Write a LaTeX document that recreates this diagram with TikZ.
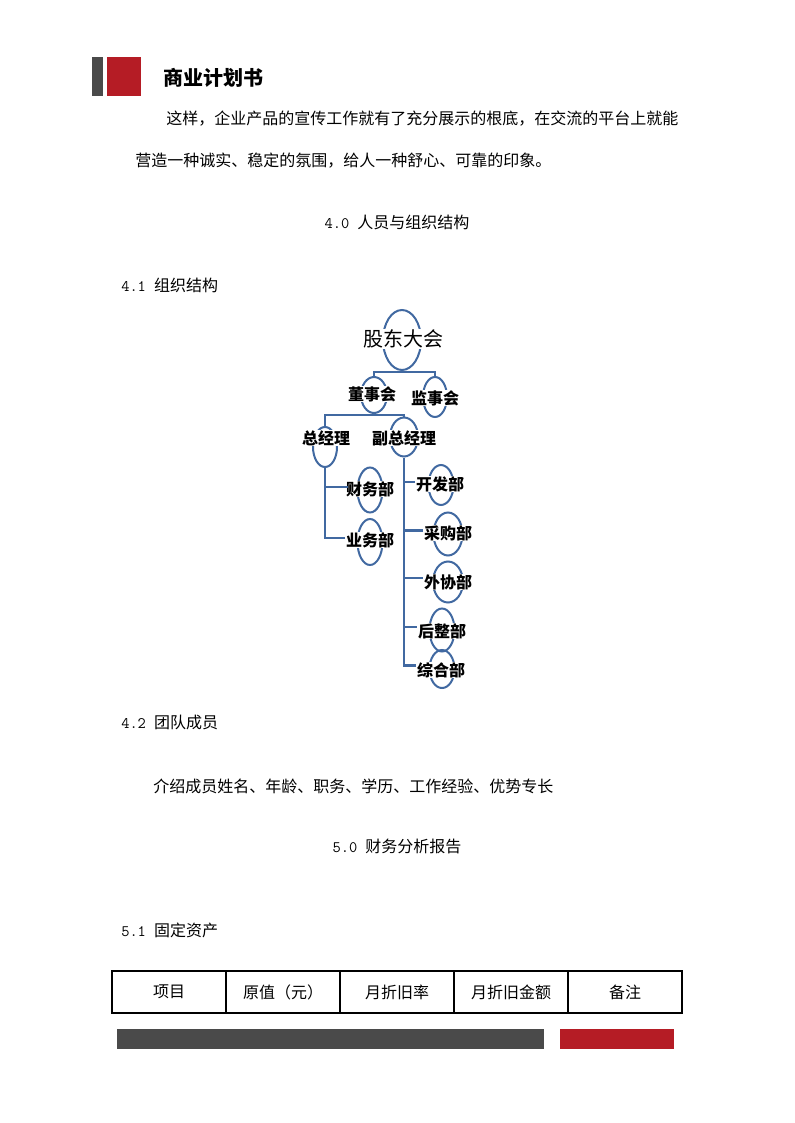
\documentclass[tikz,border=0pt]{standalone}
\usepackage{fontspec}
\setmainfont{Noto Sans CJK SC}
\usetikzlibrary{shapes.geometric}
\definecolor{bargray}{HTML}{4A4A4A}
\definecolor{barred}{HTML}{B51C25}
\definecolor{orgblue}{HTML}{4169A1}
\begin{document}
\begin{tikzpicture}[x=0.75pt,y=-0.75pt,
  txt/.style={inner sep=0pt, anchor=west, font=\fontsize{12pt}{14pt}\selectfont},
  ctxt/.style={inner sep=0pt, font=\fontsize{12pt}{14pt}\selectfont},
  ell/.style 2 args={ellipse, draw=orgblue, line width=1.5pt, minimum width=#1*0.75pt, minimum height=#2*0.75pt, inner sep=0pt},
  orgtxt/.style={fill=white, inner sep=0.5pt, font=\fontsize{12pt}{14pt}\selectfont\bfseries},
  conn/.style={draw=orgblue, line width=2pt},
  cell/.style={draw=black, line width=0.8pt, minimum width=114*0.75pt, minimum height=42*0.75pt, inner sep=0pt, font=\fontsize{12pt}{14pt}\selectfont}
]
\useasboundingbox (0,0) rectangle (794,1123);
% header bars
\fill[bargray] (92,57) rectangle (103,96);
\fill[barred] (107,57) rectangle (141,96);
\node[inner sep=0pt, anchor=west, font=\fontsize{15pt}{18pt}\selectfont\bfseries] (title) at (163,78) {商业计划书};
% body text
\node[txt] (p1) at (166,119) {这样，企业产品的宣传工作就有了充分展示的根底，在交流的平台上就能};
\node[txt] (p2) at (135,161) {营造一种诚实、稳定的氛围，给人一种舒心、可靠的印象。};
\node[ctxt] (h40) at (397,222) {\texttt{4.0~}人员与组织结构};
\node[txt] (h41) at (121,285) {\texttt{4.1~}组织结构};
\node[txt] (h42) at (121,722) {\texttt{4.2~}团队成员};
\node[txt] (p3) at (153,786) {介绍成员姓名、年龄、职务、学历、工作经验、优势专长};
\node[ctxt] (h50) at (397,846) {\texttt{5.0~}财务分析报告};
\node[txt] (h51) at (121,930) {\texttt{5.1~}固定资产};
% org chart ellipses
\node[ell={38}{60}] (gd) at (402,340) {};
\node[ell={26}{36}] (dsh) at (374,395) {};
\node[ell={24}{40}] (jsh) at (435,397) {};
\node[ell={24}{40}] (zjl) at (325,447) {};
\node[ell={28}{39}] (fzjl) at (404,437) {};
\node[ell={25}{45}] (cw) at (370,490) {};
\node[ell={25}{46}] (yw) at (370,542) {};
\node[ell={25}{40}] (kf) at (441,485) {};
\node[ell={29}{43}] (cg) at (448,534) {};
\node[ell={30}{41}] (wx) at (448,582) {};
\node[ell={25}{43}] (hz) at (442,630) {};
\node[ell={25}{38}] (zh) at (442,669) {};
% org chart texts
\node[fill=white, inner sep=0.5pt, font=\fontsize{15pt}{18pt}\selectfont] (gdt) at (403,339) {股东大会};
\node[orgtxt] (dsht) at (372,394) {董事会};
\node[orgtxt] (jsht) at (435,398) {监事会};
\node[orgtxt] (zjlt) at (326,438) {总经理};
\node[orgtxt] (fzjlt) at (404,438) {副总经理};
\node[orgtxt] (cwt) at (370,489) {财务部};
\node[orgtxt] (ywt) at (370,540) {业务部};
\node[orgtxt] (kft) at (440,484) {开发部};
\node[orgtxt] (cgt) at (448,533) {采购部};
\node[orgtxt] (wxt) at (448,582) {外协部};
\node[orgtxt] (hzt) at (442,631) {后整部};
\node[orgtxt] (zht) at (441,670) {综合部};
% connectors
\coordinate (b1) at (402,372);
\coordinate (b2) at (374,415);
\draw[conn] (gd.south) -- (b1);
\draw[conn] (dsh.north) |- (b1) -| (jsh.north);
\draw[conn] (dsh.south) -- (b2);
\draw[conn] (zjl.north) |- (b2) -| (fzjl.north);
\coordinate (cwe) at ([yshift=1.5pt]cwt.west);
\coordinate (ywe) at ([yshift=1.5pt]ywt.west);
\draw[conn] (zjl.south) |- (ywe);
\draw[conn] (zjl.south |- cwe) -- ([xshift=2pt]cwe);
\coordinate (kfe) at ([yshift=1.5pt]kft.west);
\coordinate (cge) at ([yshift=2pt]cgt.west);
\coordinate (wxe) at ([yshift=3pt]wxt.west);
\coordinate (hze) at ([yshift=3pt]hzt.west);
\coordinate (zhe) at ([yshift=3.5pt]zht.west);
\draw[conn] (fzjl.south) |- (zhe);
\draw[conn] (fzjl.south |- kfe) -- (kfe);
\draw[conn] (fzjl.south |- cge) -- (cge);
\draw[conn] (fzjl.south |- wxe) -- (wxe);
\draw[conn] (fzjl.south |- hze) -- (hze);
% table
\node[cell] (c1) at (169,992) {项目};
\node[cell] (c2) at (283,992) {原值（元）};
\node[cell] (c3) at (397,992) {月折旧率};
\node[cell] (c4) at (511,992) {月折旧金额};
\node[cell] (c5) at (625,992) {备注};
% footer bars
\fill[bargray] (117,1029) rectangle (544,1049);
\fill[barred] (560,1029) rectangle (674,1049);
\end{tikzpicture}
\end{document}
